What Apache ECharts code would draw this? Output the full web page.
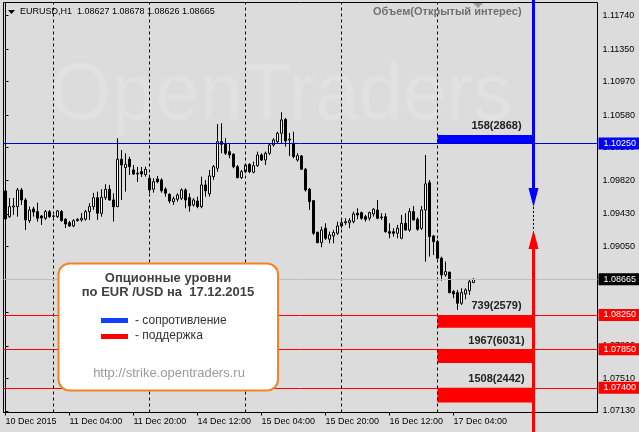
<!DOCTYPE html>
<html>
<head>
<meta charset="utf-8">
<script src="https://cdn.jsdelivr.net/npm/echarts@6/dist/echarts.min.js"></script>
<style>
  html, body { margin: 0; padding: 0; background: #dcdcdc; }
  #chart { width: 639px; height: 432px; }
</style>
</head>
<body>
<div id="chart"></div>
<script>
  // EURUSD H1, 10 Dec 2015 12:00 .. 17 Dec 2015 09:00 (one bar per hour)
  var opens = [
    1.09696,1.09396,1.09509,1.09513,1.09708,1.09591,1.09350,1.09486,1.09455,1.09404,
    1.09378,1.09455,1.09404,1.09396,1.09455,1.09366,1.09326,1.09288,1.09350,1.09358,
    1.09366,1.09455,1.09513,1.09618,1.09436,1.09618,1.09716,1.09591,1.09513,1.10066,
    1.09968,1.10066,1.09941,1.09902,1.09921,1.09888,1.09844,1.09716,1.09836,1.09824,
    1.09716,1.09657,1.09571,1.09599,1.09611,1.09708,1.09618,1.09533,1.09579,1.09513,
    1.09766,1.09661,1.09863,1.09961,1.10271,1.10240,1.10154,1.10124,1.09979,1.09851,
    1.09921,1.10007,1.09914,1.09991,1.10116,1.10057,1.10136,1.10232,1.10271,1.10369,
    1.10532,1.10291,1.10252,1.10057,1.10104,1.09949,1.09716,1.09583,1.09214,1.09093,
    1.09261,1.09133,1.09171,1.09203,1.09288,1.09326,1.09326,1.09338,1.09436,1.09443,
    1.09396,1.09378,1.09428,1.09474,1.09393,1.09396,1.09221,1.09221,1.09203,1.09144,
    1.09319,1.09241,1.09455,1.09366,1.09261,1.09474,1.09793,1.09171,1.09105,1.08911,
    1.08717,1.08748,1.08522,1.08510,1.08386,1.08495,1.08533,1.08627
  ];
  var closes = [
    1.09369,1.09513,1.09521,1.09708,1.09591,1.09358,1.09474,1.09451,1.09378,1.09381,
    1.09455,1.09396,1.09401,1.09463,1.09350,1.09311,1.09288,1.09350,1.09366,1.09378,
    1.09455,1.09513,1.09618,1.09436,1.09622,1.09716,1.09591,1.09513,1.10066,1.09999,
    1.10007,1.09979,1.09894,1.09894,1.09894,1.09949,1.09708,1.09804,1.09804,1.09699,
    1.09669,1.09579,1.09606,1.09649,1.09708,1.09591,1.09521,1.09591,1.09513,1.09766,
    1.09699,1.09871,1.09979,1.10271,1.10240,1.10136,1.10116,1.09979,1.09851,1.09921,
    1.09999,1.09921,1.09991,1.10116,1.10057,1.10136,1.10232,1.10291,1.10369,1.10524,
    1.10279,1.10302,1.10096,1.10108,1.09949,1.09708,1.09571,1.09203,1.09093,1.09241,
    1.09144,1.09183,1.09210,1.09288,1.09326,1.09338,1.09350,1.09428,1.09416,1.09378,
    1.09366,1.09443,1.09483,1.09378,1.09385,1.09221,1.09203,1.09203,1.09261,1.09319,
    1.09241,1.09455,1.09358,1.09249,1.09474,1.09778,1.09163,1.09105,1.08911,1.08717,
    1.08755,1.08510,1.08495,1.08386,1.08510,1.08542,1.08638,1.08665
  ];
  var lows = [
    1.09334,1.09381,1.09416,1.09396,1.09533,1.09241,1.09323,1.09396,1.09338,1.09300,
    1.09358,1.09381,1.09358,1.09381,1.09338,1.09265,1.09276,1.09273,1.09338,1.09338,
    1.09350,1.09358,1.09474,1.09358,1.09396,1.09591,1.09583,1.09338,1.09509,1.09591,
    1.09688,1.09883,1.09883,1.09801,1.09859,1.09863,1.09673,1.09676,1.09786,1.09676,
    1.09630,1.09553,1.09533,1.09571,1.09591,1.09494,1.09455,1.09513,1.09494,1.09494,
    1.09630,1.09630,1.09824,1.09921,1.10136,1.10116,1.10077,1.09961,1.09844,1.09836,
    1.09902,1.09902,1.09902,1.09979,1.10045,1.09999,1.10116,1.10213,1.10252,1.10252,
    1.10213,1.10104,1.10077,1.10038,1.09941,1.09688,1.09474,1.09183,1.09086,1.09039,
    1.09125,1.09086,1.09086,1.09183,1.09261,1.09300,1.09261,1.09319,1.09366,1.09358,
    1.09338,1.09350,1.09396,1.09366,1.09358,1.09210,1.09144,1.09163,1.09144,1.09133,
    1.09233,1.09221,1.09350,1.09233,1.09241,1.08872,1.08930,1.08950,1.08900,1.08650,
    1.08697,1.08503,1.08445,1.08307,1.08366,1.08433,1.08483,1.08626
  ];
  var highs = [
    1.09719,1.09614,1.09614,1.09731,1.09731,1.09614,1.09513,1.09513,1.09560,1.09416,
    1.09474,1.09474,1.09416,1.09474,1.09474,1.09378,1.09346,1.09366,1.09378,1.09439,
    1.09474,1.09553,1.09673,1.09688,1.09716,1.09774,1.09766,1.09669,1.10310,1.10174,
    1.10136,1.10096,1.09999,1.09976,1.09976,1.09979,1.09886,1.09844,1.09871,1.09844,
    1.09739,1.09669,1.09630,1.09669,1.09727,1.09727,1.09669,1.09611,1.09630,1.09863,
    1.09824,1.09941,1.09999,1.10477,1.10485,1.10314,1.10252,1.10136,1.09999,1.09941,
    1.10019,1.10019,1.10038,1.10154,1.10136,1.10154,1.10252,1.10310,1.10387,1.10614,
    1.10547,1.10372,1.10387,1.10136,1.10116,1.09964,1.09731,1.09591,1.09221,1.09280,
    1.09319,1.09221,1.09241,1.09338,1.09378,1.09378,1.09378,1.09455,1.09494,1.09455,
    1.09416,1.09455,1.09494,1.09591,1.09436,1.09436,1.09319,1.09261,1.09300,1.09416,
    1.09436,1.09494,1.09521,1.09389,1.09521,1.10116,1.09824,1.09183,1.09125,1.08930,
    1.08872,1.08755,1.08542,1.08542,1.08561,1.08561,1.08658,1.08678
  ];

  // time axis: bar index -> label
  var tickBars = [0, 16, 32, 48, 64, 80, 96, 112];
  var tickLabels = ['10 Dec 2015', '11 Dec 04:00', '11 Dec 20:00', '14 Dec 12:00',
                    '15 Dec 04:00', '15 Dec 20:00', '16 Dec 12:00', '17 Dec 04:00'];
  var daySeparators = [12, 36, 60, 84, 108];
  var priceTicks = [1.11740, 1.11350, 1.10970, 1.10580, 1.10200, 1.09820, 1.09430,
                    1.09050, 1.08670, 1.08280, 1.07890, 1.07510, 1.07130];

  // option levels for 17.12.2015
  var lastPrice = 1.08665;
  var resistLevels = [1.10250];
  var resistTops = [1.10350];
  var resistVolumes = ['158(2868)'];
  var supportLevels = [1.08250, 1.07850, 1.07400];
  var supportBottoms = [1.08100, 1.07690, 1.07230];
  var supportVolumes = ['739(2579)', '1967(6031)', '1508(2442)'];
  var levelDay = [108, 132];          // 17 Dec 00:00 .. 18 Dec 00:00
  var arrowDownTo = 1.09510;
  var arrowUpTo = 1.09240;
  var headerText = 'EURUSD,H1  1.08627 1.08678 1.08626 1.08665';

  var FONT = '"Liberation Sans", Arial, sans-serif';

  var candles = opens.map(function (o, i) {
    return [i, o, closes[i], lows[i], highs[i]];
  });

  function tag(bg) {
    return {
      show: true, position: 'end', distance: 1,
      formatter: function (p) { return Number(p.value).toFixed(5); },
      backgroundColor: bg, color: '#fff', fontSize: 9, fontFamily: FONT,
      padding: [2, 6, 1, 5], lineHeight: 9
    };
  }

  var volLabel = {
    show: true, position: 'top', distance: 3, offset: [11, 0],
    color: '#222', fontSize: 11, fontWeight: 'bold', fontFamily: FONT
  };

  var levelLines = [];
  daySeparators.forEach(function (v) {
    levelLines.push({ xAxis: v, lineStyle: { color: '#000', type: [3, 3], width: 1 }, label: { show: false } });
  });
  levelLines.push({ yAxis: lastPrice, lineStyle: { color: '#c0c0c0', type: 'solid', width: 1 }, label: tag('#000') });
  resistLevels.forEach(function (v) {
    levelLines.push({ yAxis: v, lineStyle: { color: '#0000d0', type: 'solid', width: 1 }, label: tag('#0000ff') });
  });
  supportLevels.forEach(function (v) {
    levelLines.push({ yAxis: v, lineStyle: { color: '#ff0000', type: 'solid', width: 1 }, label: tag('#ff0000') });
  });

  var levelAreas = [];
  resistLevels.forEach(function (v, k) {
    levelAreas.push([
      { name: resistVolumes[k], xAxis: levelDay[0], yAxis: resistTops[k], itemStyle: { color: '#0000ff' }, label: volLabel },
      { xAxis: levelDay[1], yAxis: v }
    ]);
  });
  supportLevels.forEach(function (v, k) {
    levelAreas.push([
      { name: supportVolumes[k], xAxis: levelDay[0], yAxis: v, itemStyle: { color: '#ff0000' }, label: volLabel },
      { xAxis: levelDay[1], yAxis: supportBottoms[k] }
    ]);
  });

  // info box in the lower left corner
  var boxZ = 100;
  var infoBox = [
    {
      type: 'rect', z: boxZ, silent: true, shape: { x: 58.5, y: 263.5, width: 219.5, height: 127, r: 11 },
      style: { fill: '#fff', stroke: '#f28522', lineWidth: 2 }
    },
    {
      type: 'text', z: boxZ + 1, silent: true, x: 168, y: 278,
      style: { text: 'Опционные уровни', fontSize: 13, fontWeight: 'bold', fontFamily: FONT, fill: '#404040', align: 'center', verticalAlign: 'middle' }
    },
    {
      type: 'text', z: boxZ + 1, silent: true, x: 168, y: 292,
      style: { text: 'по EUR /USD на  17.12.2015', fontSize: 13, fontWeight: 'bold', fontFamily: FONT, fill: '#404040', align: 'center', verticalAlign: 'middle' }
    },
    { type: 'rect', z: boxZ + 1, silent: true, shape: { x: 101, y: 318, width: 27, height: 5 }, style: { fill: '#1040ff' } },
    {
      type: 'text', z: boxZ + 1, silent: true, x: 135, y: 321,
      style: { text: '- сопротивление', fontSize: 12, fontFamily: FONT, fill: '#333', verticalAlign: 'middle' }
    },
    { type: 'rect', z: boxZ + 1, silent: true, shape: { x: 101, y: 334, width: 27, height: 5 }, style: { fill: '#ff0000' } },
    {
      type: 'text', z: boxZ + 1, silent: true, x: 135, y: 336,
      style: { text: '- поддержка', fontSize: 12, fontFamily: FONT, fill: '#333', verticalAlign: 'middle' }
    },
    {
      type: 'text', z: boxZ + 1, silent: true, x: 169, y: 373,
      style: { text: 'http://strike.opentraders.ru', fontSize: 13, fontFamily: FONT, fill: '#9a9a9a', align: 'center', verticalAlign: 'middle' }
    }
  ];

  var chart = echarts.init(document.getElementById('chart'));
  chart.setOption({
    animation: false,
    backgroundColor: '#dcdcdc',
    grid: {
      left: 3.5, right: 41.5, top: 2.5, bottom: 19.5,
      show: true, borderColor: '#000', borderWidth: 1, backgroundColor: 'transparent',
      outerBoundsMode: 'none'
    },
    xAxis: {
      type: 'value', min: -0.5, max: 148,
      axisLine: { show: true, lineStyle: { color: '#000', width: 1 } },
      axisTick: { show: true, inside: false, length: 3, customValues: tickBars, lineStyle: { color: '#000' } },
      axisLabel: {
        customValues: tickBars,
        formatter: function (v) { return tickLabels[tickBars.indexOf(v)]; },
        align: 'left', margin: 5, color: '#000', fontSize: 9, fontFamily: FONT
      },
      splitLine: { show: false }
    },
    yAxis: {
      type: 'value', position: 'right', min: 1.07112, max: 1.11894,
      axisLine: { show: true, lineStyle: { color: '#000', width: 1 } },
      axisTick: { show: true, inside: false, length: 3, customValues: priceTicks, lineStyle: { color: '#000' } },
      axisLabel: {
        customValues: priceTicks,
        formatter: function (v) { return v.toFixed(5); },
        margin: 5, color: '#000', fontSize: 9, fontFamily: FONT
      },
      splitLine: { show: false }
    },
    graphic: [
      {
        type: 'text', left: 50, top: 58, z: 1, silent: true,
        style: { text: 'OpenTraders', fontSize: 79, fontFamily: FONT, fill: '#e0e1e0' }
      },
      {
        type: 'polygon', z: 100, silent: true,
        shape: { points: [[8, 10], [15, 10], [11.5, 14]] }, style: { fill: '#000' }
      },
      {
        type: 'text', x: 20, y: 12, z: 100, silent: true,
        style: { text: headerText, fontSize: 9, fontFamily: FONT, fill: '#000', verticalAlign: 'middle' }
      },
      {
        type: 'polygon', z: 100, silent: true,
        shape: { points: [[473, 3], [483, 3], [478, 8]] }, style: { fill: '#9a9a9a' }
      },
      {
        type: 'text', x: 373, y: 12, z: 100, silent: true,
        style: { text: 'Объем(Открытый интерес)', fontSize: 11, fontWeight: 'bold', fontFamily: FONT, fill: '#707070', verticalAlign: 'middle' }
      }
    ].concat(infoBox),
    series: [
      {
        type: 'candlestick',
        data: candles,
        encode: { x: 0, y: [1, 2, 3, 4] },
        barWidth: 3,
        silent: true,
        itemStyle: { color: '#fff', color0: '#000', borderColor: '#000', borderColor0: '#000', borderWidth: 1 },
        markLine: { symbol: ['none', 'none'], precision: 5, silent: true, animation: false, data: levelLines },
        markArea: { silent: true, animation: false, data: levelAreas }
      },
      {
        // arrows from the option levels towards the expected price
        type: 'custom',
        data: [[levelDay[1], arrowDownTo, arrowUpTo]],
        encode: { x: 0, y: [1, 2] },
        silent: true,
        clip: false,
        z: 5,
        renderItem: function (params, api) {
          var cs = params.coordSys;
          var pd = api.coord([api.value(0), api.value(1)]);
          var pu = api.coord([api.value(0), api.value(2)]);
          var x = pd[0], yd = pd[1], yu = pu[1];
          var head = 19, half = 5;
          var bottom = cs.y + cs.height + cs.y + 20;
          return {
            type: 'group',
            children: [
              { type: 'line', shape: { x1: x, y1: 0, x2: x, y2: yd - head + 1 }, style: { stroke: '#0000ff', lineWidth: 3 } },
              { type: 'polygon', shape: { points: [[x - half, yd - head], [x + half, yd - head], [x, yd]] }, style: { fill: '#0000ff' } },
              { type: 'line', shape: { x1: x, y1: yd, x2: x, y2: yu }, style: { stroke: '#000', lineWidth: 1, lineDash: [2, 2] } },
              { type: 'polygon', shape: { points: [[x - half, yu + head], [x + half, yu + head], [x, yu]] }, style: { fill: '#ff0000' } },
              { type: 'line', shape: { x1: x, y1: yu + head - 1, x2: x, y2: bottom }, style: { stroke: '#ff0000', lineWidth: 3 } }
            ]
          };
        }
      }
    ]
  });
</script>
</body>
</html>
